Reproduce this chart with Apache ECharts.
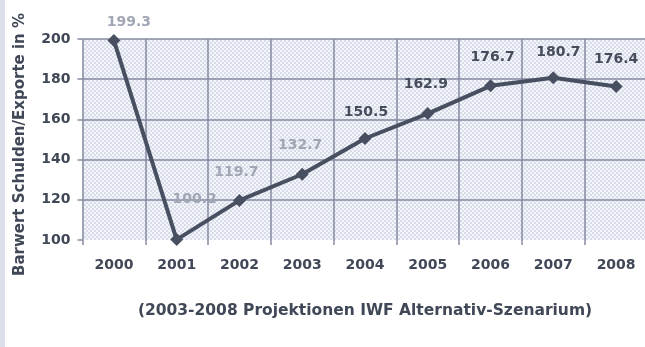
<!DOCTYPE html>
<html>
<head>
<meta charset="utf-8">
<script src="https://cdn.jsdelivr.net/npm/echarts@6/dist/echarts.min.js"></script>
<style>
  html, body { margin: 0; padding: 0; background: #ffffff; }
  #chart { width: 645px; height: 347px; }
</style>
</head>
<body>
<div id="chart"></div>
<script>
// Years on the category axis
var years = ['2000', '2001', '2002', '2003', '2004', '2005', '2006', '2007', '2008'];
// Present value of debt relative to exports, in percent
var debtRatio = [199.3, 100.2, 119.7, 132.7, 150.5, 162.9, 176.7, 180.7, 176.4];
// Value-axis ticks
var yTicks = [100, 120, 140, 160, 180, 200];

// Label placement relative to each marker (pixels) and label tone
var labelOffsets = [[15, -18], [18, -40], [-3, -28], [-2, -29], [1, -26], [-2, -29], [2, -28], [5, -25], [0, -27]];
var lightLabel = [true, true, true, true, false, false, false, false, false];

var FONT = '"DejaVu Sans", Verdana, sans-serif';
var GRID_LINE = '#858aa0';

// Fine cross-hatch fill for the plotting area
function hatchPattern() {
  var c = document.createElement('canvas');
  c.width = 4; c.height = 4;
  var g = c.getContext('2d');
  g.fillStyle = '#f3f6fa';
  g.fillRect(0, 0, 4, 4);
  g.fillStyle = '#dadbe8';
  g.fillRect(0, 0, 2, 2);
  g.fillRect(2, 2, 2, 2);
  return { image: c, repeat: 'repeat' };
}

var chart = echarts.init(document.getElementById('chart'), null, { renderer: 'canvas' });

var seriesData = debtRatio.map(function (v, i) {
  return {
    value: v,
    label: {
      offset: labelOffsets[i],
      color: lightLabel[i] ? '#a0a6b4' : '#454c5b'
    }
  };
});

chart.setOption({
  animation: false,
  backgroundColor: '#ffffff',
  grid: {
    left: 82.5,
    top: 39,
    width: 565,
    height: 201,
    outerBoundsMode: 'none',
    containLabel: false,
    show: true,
    backgroundColor: hatchPattern(),
    borderWidth: 0
  },
  xAxis: {
    type: 'category',
    data: years,
    boundaryGap: true,
    axisLine: { show: false },
    axisTick: { show: true, length: 5, lineStyle: { color: GRID_LINE, width: 1.5 } },
    splitLine: { show: true, lineStyle: { color: GRID_LINE, width: 1.5 } },
    axisLabel: {
      margin: 18,
      color: '#404756',
      fontFamily: FONT,
      fontSize: 14,
      fontWeight: 'bold'
    }
  },
  yAxis: {
    type: 'value',
    min: yTicks[0],
    max: yTicks[yTicks.length - 1],
    interval: yTicks[1] - yTicks[0],
    name: 'Barwert Schulden/Exporte in %',
    nameLocation: 'middle',
    nameGap: 55,
    nameTextStyle: {
      color: '#404756',
      fontFamily: FONT,
      fontSize: 15,
      fontWeight: 'bold',
      padding: [0, 10, 0, 0]
    },
    axisLine: { show: false },
    axisTick: { show: true, length: 5, lineStyle: { color: GRID_LINE, width: 1.5 } },
    // the baseline at 100 stays unruled; the upper lines are drawn
    splitLine: {
      show: true,
      lineStyle: { color: ['rgba(0,0,0,0)', GRID_LINE, GRID_LINE, GRID_LINE, GRID_LINE, GRID_LINE], width: 1.5 }
    },
    axisLabel: {
      margin: 12,
      color: '#404756',
      fontFamily: FONT,
      fontSize: 14,
      fontWeight: 'bold'
    }
  },
  graphic: [
    {
      type: 'rect',
      left: 0, top: 0,
      shape: { width: 5, height: 347 },
      style: { fill: '#dde0ec' }
    },
    {
      type: 'text',
      x: 365, y: 311,
      style: {
        text: '(2003-2008 Projektionen IWF Alternativ-Szenarium)',
        fill: '#404756',
        font: 'bold 15.5px ' + FONT,
        align: 'center',
        verticalAlign: 'middle'
      }
    }
  ],
  series: [{
    type: 'line',
    data: seriesData,
    symbol: 'diamond',
    symbolSize: 13,
    lineStyle: { color: '#474f60', width: 4 },
    itemStyle: { color: '#474f60' },
    label: {
      show: true,
      position: 'inside',
      fontFamily: FONT,
      fontSize: 14,
      fontWeight: 'bold',
      formatter: function (p) { return p.value.toFixed(1); }
    }
  }]
});
</script>
</body>
</html>
